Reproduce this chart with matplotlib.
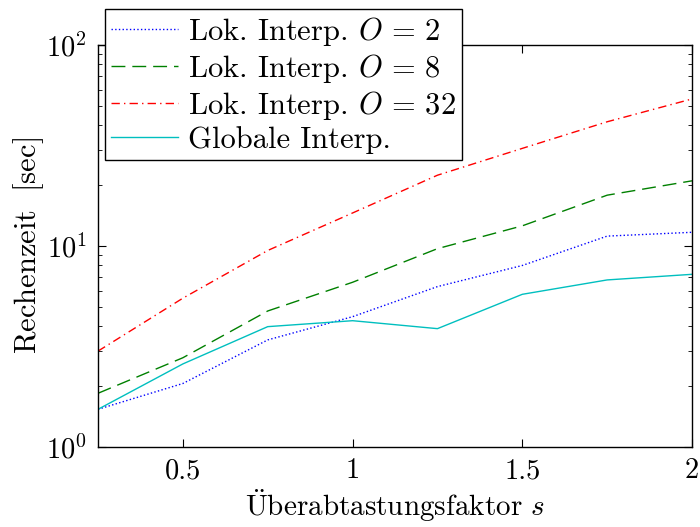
import matplotlib
matplotlib.use("Agg")
import matplotlib.pyplot as plt
import numpy as np

plt.rcParams['mathtext.fontset'] = 'cm'
plt.rcParams['font.family'] = ['cmr10', 'DejaVu Serif']
plt.rcParams['axes.formatter.use_mathtext'] = True

s = [0.25, 0.5, 0.75, 1.0, 1.25, 1.5, 1.75, 2.0]
lok_o2 = [1.54, 2.07, 3.41, 4.45, 6.28, 8.0, 11.2, 11.7]
lok_o8 = [1.85, 2.78, 4.75, 6.6, 9.7, 12.6, 17.9, 21.1]
lok_o32 = [3.0, 5.5, 9.5, 14.6, 22.5, 30.6, 41.5, 53.9]
globale = [1.54, 2.59, 3.97, 4.25, 3.88, 5.75, 6.78, 7.23]

labels = [r'Lok. Interp. $O\,=\,2$', r'Lok. Interp. $O\,=\,8$',
          r'Lok. Interp. $O\,=\,32$', 'Globale Interp.']
xticks = [0.5, 1, 1.5, 2]
xticklabels = ['0.5', '1', '1.5', '2']

fig = plt.figure(figsize=(7, 5.27), dpi=100)
ax = fig.add_axes([0.14, 0.1518, 0.8486, 0.7628])

ax.plot(s, lok_o2, color=(0, 0, 1), linestyle=':', lw=1.0, label=labels[0])
ax.plot(s, lok_o8, color=(0, 0.5, 0), linestyle=(0, (10, 5)), lw=1.0, label=labels[1])
ax.plot(s, lok_o32, color=(1, 0, 0), linestyle=(0, (6, 3, 1, 3)), lw=1.0, label=labels[2])
ax.plot(s, globale, color=(0, 0.75, 0.75), linestyle='-', lw=1.0, label=labels[3])

ax.set_yscale('log')
ax.set_xlim(0.25, 2)
ax.set_ylim(1, 100)
ax.set_xticks(xticks)
ax.set_xticklabels(xticklabels)
ax.tick_params(which='both', direction='in', top=True, right=True, labelsize=20.5, pad=8)
ax.tick_params(which='major', length=6)
ax.tick_params(which='minor', length=3)
for sp in ax.spines.values():
    sp.set_linewidth(1.0)

ax.set_xlabel(r'$\ddot{\mathrm{U}}\mathrm{berabtastungsfaktor}\ s$', fontsize=21, labelpad=2)
ax.set_ylabel(r'$\mathrm{Rechenzeit\ \ [sec]}$', fontsize=22, labelpad=0)

leg = ax.legend(loc='upper left', bbox_to_anchor=(0.012, 1.09), borderaxespad=0,
                fontsize=22, handlelength=2.2, handletextpad=0.3, labelspacing=0.13,
                borderpad=0.2, fancybox=False, framealpha=1, edgecolor='black')
leg.get_frame().set_linewidth(1.0)

fig.savefig('out.png', dpi=100)
